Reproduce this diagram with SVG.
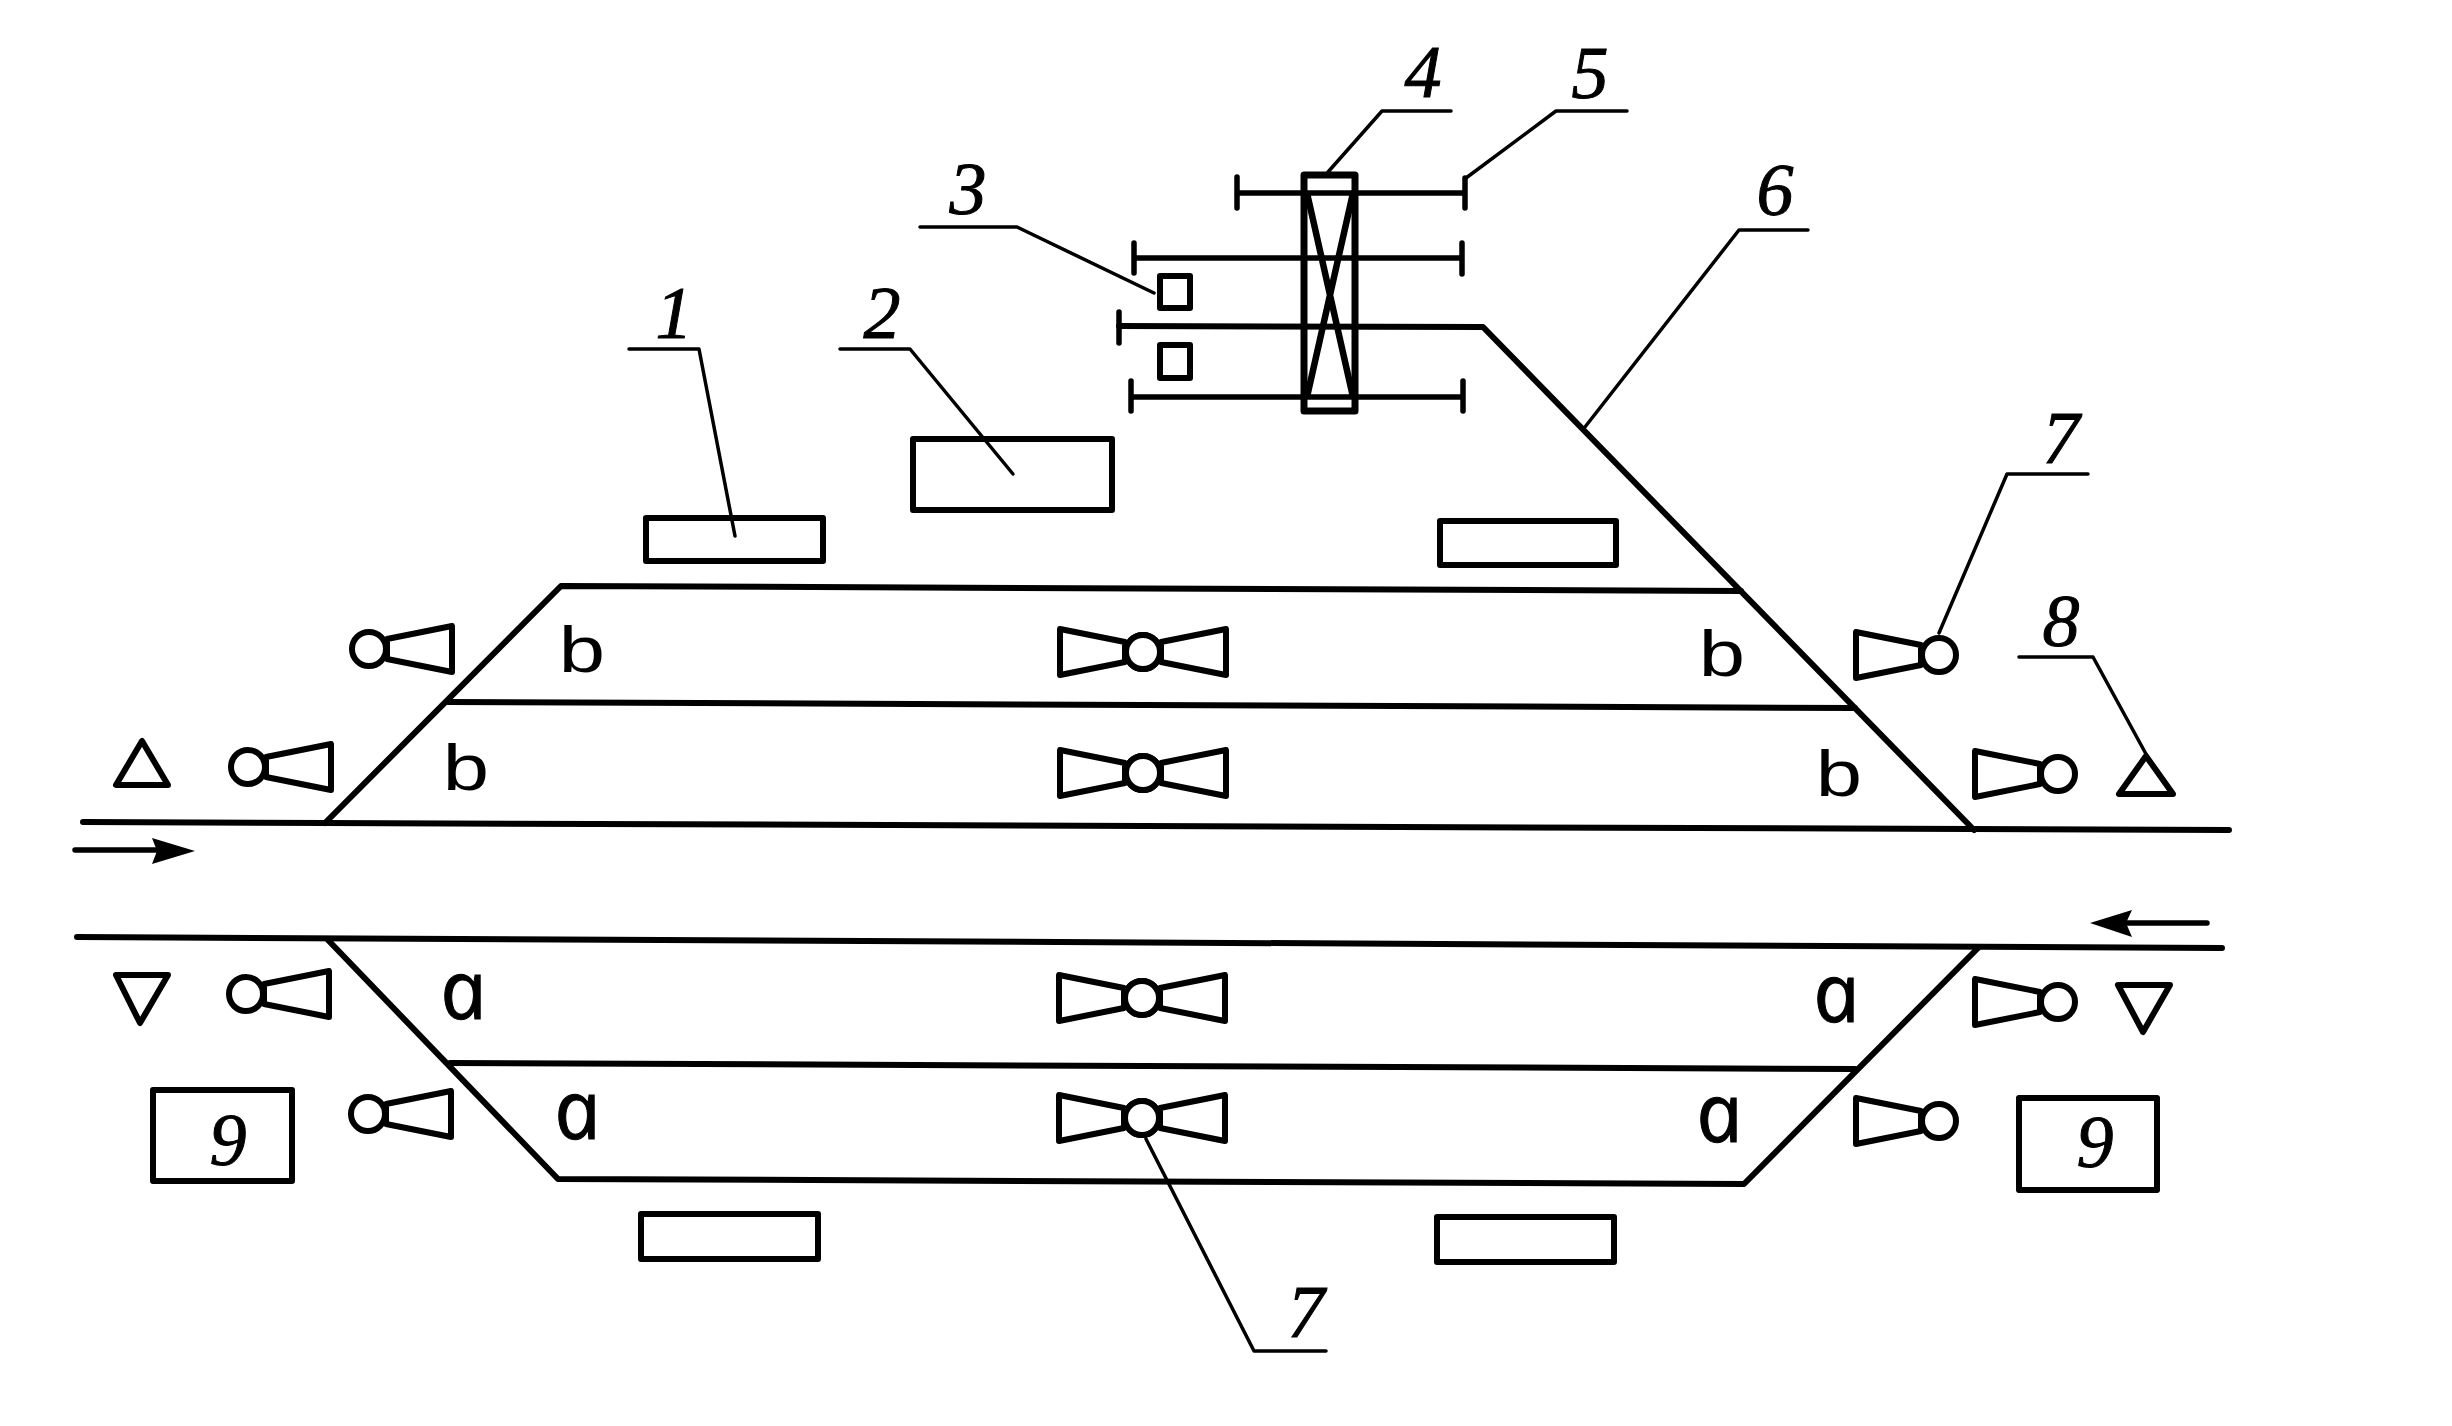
<svg xmlns="http://www.w3.org/2000/svg" xmlns:xlink="http://www.w3.org/1999/xlink" width="2452" height="1426" viewBox="0 0 2452 1426">
<style>
.t{fill:none;stroke:#000;stroke-width:6;stroke-linejoin:round;stroke-linecap:round}
.c{fill:none;stroke:#000;stroke-width:5.5;stroke-linecap:round}
.l{fill:none;stroke:#000;stroke-width:3.5;stroke-linejoin:round;stroke-linecap:round}
.b{fill:#fff;stroke:#000;stroke-width:6;stroke-linejoin:round}
.n{font-family:"Liberation Serif",serif;font-style:italic;font-size:74px;text-anchor:middle;fill:#000;stroke:#000;stroke-width:1}
.a{font-family:"Open Sans",sans-serif;font-style:italic;font-size:82px;text-anchor:middle;fill:#000;stroke:#000;stroke-width:1}
.p{font-family:"Liberation Sans",sans-serif;font-size:64px;text-anchor:middle;fill:#000}
</style>
<defs>
<g id="half"><circle cx="0" cy="0" r="17" fill="#fff" stroke="#000" stroke-width="6"/><path d="M18 -10L83 -23V23L18 10Z" fill="#fff" stroke="#000" stroke-width="6" stroke-linejoin="round"/></g>
<g id="double"><use xlink:href="#half" href="#half"/><use xlink:href="#half" href="#half" transform="scale(-1,1)"/></g>
</defs>
<rect width="2452" height="1426" fill="#fff"/>
<g id="tracks">
<path class="t" d="M83 822L325 823L2229 830"/>
<path class="t" d="M77 937L2222 948"/>
<path class="t" d="M325 823L561 586L1741 591"/>
<path class="t" d="M448 702L1855 708"/>
<path class="t" d="M1119 326L1483 327L1974 830"/>
<path class="t" d="M328 940L558 1179L1744 1184L1978 948"/>
<path class="t" d="M450 1063L1855 1069"/>
<path class="c" d="M1237 193H1465M1237 177V208M1465 178V208"/>
<path class="c" d="M1134 258H1462M1134 243V273M1462 243V274"/>
<path class="c" d="M1119 312V343"/>
<path class="c" d="M1131 397H1463M1131 381V411M1463 381V411"/>
</g>
<g id="arrow-right"><path class="c" d="M75 850H160"/><path d="M195 851L152 838L157 851L152 864Z" fill="#000"/></g>
<g id="arrow-left"><path class="c" d="M2207 923H2125"/><path d="M2090 923L2132 910L2126 923L2132 937Z" fill="#000"/></g>
<g id="bridge">
<rect x="1304" y="175" width="51" height="236" fill="none" stroke="#000" stroke-width="7" stroke-linejoin="round"/>
<path fill="none" stroke="#000" stroke-width="6.5" d="M1307 193L1353 397M1353 193L1307 397"/>
</g>
<g id="kiosk-1"><rect class="b" x="1160" y="276" width="30" height="32"/></g>
<g id="kiosk-2"><rect class="b" x="1160" y="345" width="30" height="33"/></g>
<g id="building-1"><rect class="b" x="646" y="518" width="177" height="43"/></g>
<g id="building-2"><rect class="b" x="913" y="439" width="199" height="71"/></g>
<g id="building-3"><rect class="b" x="1440" y="521" width="176" height="44"/></g>
<g id="building-4"><rect class="b" x="641" y="1214" width="177" height="45"/></g>
<g id="building-5"><rect class="b" x="1437" y="1217" width="177" height="45"/></g>
<g id="box-9-left"><rect class="b" x="153" y="1090" width="139" height="91"/><text class="n" x="228" y="1165">9</text></g>
<g id="box-9-right"><rect class="b" x="2019" y="1098" width="138" height="92"/><text class="n" x="2095" y="1167">9</text></g>
<g id="signal-1"><use xlink:href="#half" href="#half" transform="translate(369,649)"/></g>
<g id="signal-2"><use xlink:href="#half" href="#half" transform="translate(248,767)"/></g>
<g id="signal-3"><use xlink:href="#half" href="#half" transform="translate(246,994)"/></g>
<g id="signal-4"><use xlink:href="#half" href="#half" transform="translate(368,1114)"/></g>
<g id="signal-5"><use xlink:href="#half" href="#half" transform="translate(1939,655) scale(-1,1)"/></g>
<g id="signal-6"><use xlink:href="#half" href="#half" transform="translate(2058,774) scale(-1,1)"/></g>
<g id="signal-7"><use xlink:href="#half" href="#half" transform="translate(2058,1002) scale(-1,1)"/></g>
<g id="signal-8"><use xlink:href="#half" href="#half" transform="translate(1939,1121) scale(-1,1)"/></g>
<g id="signal-9"><use xlink:href="#double" href="#double" transform="translate(1143,652)"/></g>
<g id="signal-10"><use xlink:href="#double" href="#double" transform="translate(1143,773)"/></g>
<g id="signal-11"><use xlink:href="#double" href="#double" transform="translate(1142,998)"/></g>
<g id="signal-12"><use xlink:href="#double" href="#double" transform="translate(1142,1118)"/></g>
<g id="triangle-1"><path class="b" d="M142 741L116 785H168Z"/></g>
<g id="triangle-2"><path class="b" d="M116 975H168L140 1023Z"/></g>
<g id="triangle-3"><path class="b" d="M2146 756L2119 794H2173Z"/></g>
<g id="triangle-4"><path class="b" d="M2118 985H2170L2143 1032Z"/></g>
<g id="connectors">
<path class="l" d="M629 349H699L735 536"/>
<path class="l" d="M840 349H910L1013 474"/>
<path class="l" d="M920 227H1017L1154 293"/>
<path class="l" d="M1451 111H1382L1328 172"/>
<path class="l" d="M1627 111H1556L1466 178"/>
<path class="l" d="M1808 230H1739L1585 427"/>
<path class="l" d="M2088 474H2007L1939 633"/>
<path class="l" d="M2019 657H2093L2146 754"/>
<path class="l" d="M1326 1351H1254L1146 1139"/>
</g>
<g id="labels">
<text class="n" x="674" y="338">1</text>
<text class="n" x="882" y="338">2</text>
<text class="n" x="968" y="214">3</text>
<text class="n" x="1423" y="97">4</text>
<text class="n" x="1590" y="98">5</text>
<text class="n" x="1775" y="215">6</text>
<text class="n" x="2061" y="463">7</text>
<text class="n" x="2061" y="646">8</text>
<text class="n" x="1306" y="1337">7</text>
<text class="p" transform="translate(582,672) scale(1.3,1)">b</text>
<text class="p" transform="translate(466,790) scale(1.3,1)">b</text>
<text class="p" transform="translate(1722,676) scale(1.3,1)">b</text>
<text class="p" transform="translate(1839,796) scale(1.3,1)">b</text>
<text class="a" transform="translate(468,1019) skewX(12)">a</text>
<text class="a" transform="translate(582,1139) skewX(12)">a</text>
<text class="a" transform="translate(1841,1022) skewX(12)">a</text>
<text class="a" transform="translate(1724,1142) skewX(12)">a</text>
</g>
</svg>
